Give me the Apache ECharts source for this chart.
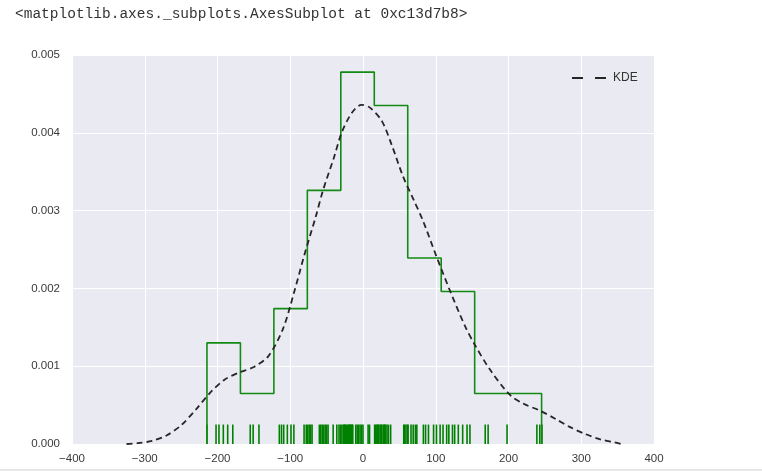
<!DOCTYPE html>
<html>
<head>
<meta charset="utf-8">
<script src="https://cdn.jsdelivr.net/npm/echarts@6/dist/echarts.min.js"></script>
<style>
html,body{margin:0;padding:0;background:#fff;}
#chart{width:762px;height:471px;}
</style>
</head>
<body>
<div id="chart"></div>
<script>
// Histogram (step outline), bin edges and densities
const binEdges = [-214.5, -168.5, -122.5, -76.5, -30.5, 15.5, 61.5, 107.5, 153.5, 199.5, 245.5];
const binDensity = [0.0013, 0.00065, 0.00174, 0.00326, 0.00478, 0.00435, 0.00239, 0.00196, 0.00065, 0.00065];

// KDE curve
const kdeX = [-325, -310, -290, -270, -250, -230, -210, -190, -170, -150, -130, -110, -95, -80, -65, -55, -40, -29, -15, -2, 10, 26, 40, 55, 70, 82, 101, 120, 140, 154, 175, 202, 220, 243, 265, 284, 305, 326, 346, 355];
const kdeY = [0, 0.00001, 0.00004, 0.00011, 0.00024, 0.00044, 0.00066, 0.00083, 0.00092, 0.00099, 0.00113, 0.00148, 0.00194, 0.00245, 0.00292, 0.00326, 0.00368, 0.00401, 0.00426, 0.00436, 0.00432, 0.00415, 0.00383, 0.00344, 0.00313, 0.00288, 0.00241, 0.00196, 0.00152, 0.00127, 0.00095, 0.00063, 0.00052, 0.00043, 0.00032, 0.00022, 0.00013, 0.00006, 0.00002, 0];

// Rug observations
const rugValues = [
  -214.5, -202, -198, -192, -186, -179,
  -155, -151, -143,
  -115, -112, -109, -104, -99, -95, -81, -78,
  -76, -74, -72, -70, -60, -58, -56, -54, -52, -50, -48, -41, -36, -33, -31,
  -29, -27, -26, -25, -24, -23, -21, -20, -19, -18, -17, -16, -15, -14, -10, -8, -6, -4, -2, 0, 7, 9,
  16, 17, 19, 20, 21, 22, 24, 25, 26, 28, 29, 30, 31, 33, 35, 38, 56, 57, 59, 61,
  62, 66, 69, 72, 74, 83, 86, 90, 97, 101, 106,
  110, 115, 118, 123, 126, 131, 137, 143, 147,
  168, 172, 198,
  239, 243, 246
];

// Axis ticks
const xTicks = [-400, -300, -200, -100, 0, 100, 200, 300, 400];
const yTicks = [0.000, 0.001, 0.002, 0.003, 0.004, 0.005];

const headerText = '<matplotlib.axes._subplots.AxesSubplot at 0xc13d7b8>';

// Build step outline points from edges/densities
const histPts = [[binEdges[0], 0]];
for (let i = 0; i < binDensity.length; i++) {
  histPts.push([binEdges[i], binDensity[i]]);
  histPts.push([binEdges[i + 1], binDensity[i]]);
}
histPts.push([binEdges[binEdges.length - 1], 0]);

const kdePts = kdeX.map((x, i) => [x, kdeY[i]]);
const rugPts = rugValues.map(v => [v, 0]);
const rugHeight = (yTicks[yTicks.length - 1] - yTicks[0]) * 0.05;

const chart = echarts.init(document.getElementById('chart'), null, {renderer: 'canvas'});
const labelFont = {color: '#3a3a3a', fontSize: 11.5, fontFamily: 'Liberation Sans, Arial, sans-serif'};

chart.setOption({
  animation: false,
  backgroundColor: '#ffffff',
  grid: {
    left: 72, right: 108, top: 55, bottom: 27,
    show: true, backgroundColor: '#EAEAF2', borderWidth: 0
  },
  graphic: [
    {type: 'text', left: 15, top: 7, style: {text: headerText, fill: '#333', font: '14.5px "Liberation Mono", monospace'}},
    {type: 'line', shape: {x1: 0, y1: 470, x2: 762, y2: 470}, style: {stroke: '#cfcfcf', lineWidth: 1}}
  ],
  legend: {
    data: ['KDE'],
    left: 566, top: 67,
    itemWidth: 36, itemHeight: 12, itemGap: 5,
    itemStyle: {color: 'transparent', borderColor: 'transparent', borderWidth: 0},
    lineStyle: {color: '#262626', width: 2, type: [11, 12]},
    textStyle: {color: '#333', fontSize: 12, fontFamily: 'Liberation Sans, Arial, sans-serif'}
  },
  xAxis: {
    type: 'value', min: xTicks[0], max: xTicks[xTicks.length - 1], interval: 100,
    axisLine: {show: false}, axisTick: {show: false},
    splitLine: {show: true, lineStyle: {color: '#ffffff', width: 1}},
    axisLabel: Object.assign({margin: 9, formatter: v => (v < 0 ? '\u2212' + Math.abs(v) : String(v))}, labelFont)
  },
  yAxis: {
    type: 'value', min: yTicks[0], max: yTicks[yTicks.length - 1], interval: 0.001,
    axisLine: {show: false}, axisTick: {show: false},
    splitLine: {show: true, lineStyle: {color: '#ffffff', width: 1}},
    axisLabel: Object.assign({margin: 12, formatter: v => v.toFixed(3)}, labelFont)
  },
  series: [
    {
      name: 'rug', type: 'custom', z: 2,
      data: rugPts,
      encode: {x: 0, y: 1},
      renderItem: function (params, api) {
        const x = api.value(0);
        const p0 = api.coord([x, 0]);
        const p1 = api.coord([x, rugHeight]);
        return {type: 'line', shape: {x1: p0[0], y1: p0[1], x2: p1[0], y2: p1[1]},
                style: {stroke: '#008000', lineWidth: 1.6}};
      }
    },
    {
      name: 'hist', type: 'line', z: 3,
      data: histPts, symbol: 'none', showSymbol: false,
      lineStyle: {color: '#138a13', width: 1.6}, itemStyle: {color: '#138a13'}
    },
    {
      name: 'KDE', type: 'line', z: 4,
      data: kdePts, symbol: 'none', showSymbol: false, smooth: 0.3,
      lineStyle: {color: '#262626', width: 1.8, type: [6, 4]}, itemStyle: {color: '#262626'}
    }
  ]
});
</script>
</body>
</html>
